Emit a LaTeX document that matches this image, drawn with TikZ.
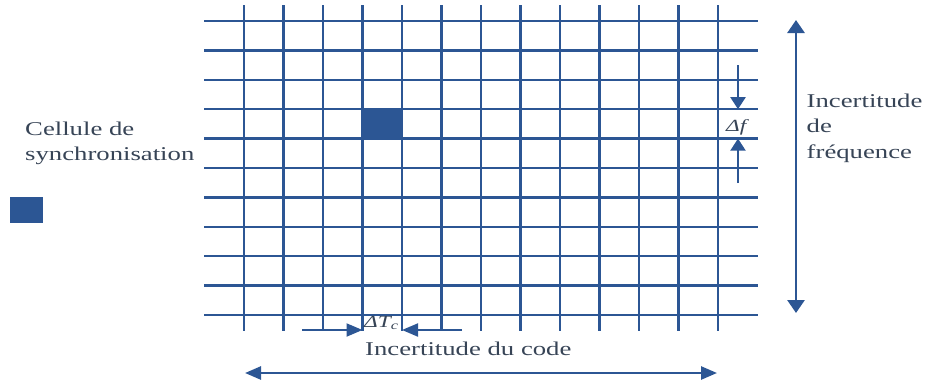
\documentclass[tikz,border=0pt]{standalone}
\usepackage{fontspec}
\setmainfont[FakeStretch=1.37]{Liberation Serif}
\usepackage{tikz}
\usetikzlibrary{arrows.meta,positioning}
\definecolor{gridblue}{RGB}{44,86,148}
\definecolor{txtgray}{RGB}{55,68,86}
\tikzset{
    lab/.style={
        font=\fontsize{19.5}{25.5}\selectfont, text=txtgray, inner sep=0pt, align=left
    }
}

\begin{document}
\begin{tikzpicture}[
  x=1pt, y=-1pt,
  line join=round,
  gridline/.style={draw=gridblue, line width=2.5pt},
  bigArrow/.style={draw=gridblue, line width=2.8pt, {Triangle[length=13pt,width=17pt]}-{Triangle[length=13pt,width=17pt]}},
  codeArrow/.style={draw=gridblue, line width=2.6pt, {Triangle[length=16pt,width=13pt]}-{Triangle[length=16pt,width=13pt]}},
  stepArrowV/.style={draw=gridblue, line width=2pt, -{Triangle[length=12pt,width=15pt]}},
  stepArrowH/.style={draw=gridblue, line width=2pt, -{Triangle[length=16pt,width=13pt]}}
]
\useasboundingbox (0,0) rectangle (928,383);

% ---------- styles ----------
\tikzset{
  deltaLab/.style={font=\fontsize{17}{20}\selectfont\itshape, text=txtgray, inner sep=0pt}
}

% ---------- cells ----------
\fill[gridblue] (362.5,109.2) rectangle (402,138.6);
\fill[gridblue] (10,197) rectangle (43,223);

% ---------- grid ----------
\foreach \i in {0,...,10} {
  \draw[gridline] (204,21+\i*29.4) -- (758,21+\i*29.4);
}
\foreach \j in {0,...,12} {
  \draw[gridline] (244+\j*39.5,5) -- (244+\j*39.5,331);
}

% ---------- labels ----------
\node[lab, anchor=north west] (sync) at (25,121.5) {Cellule de\\synchronisation};
\node[lab, anchor=north west] (freq) at (806.5,93.5) {Incertitude\\de\\fréquence};
\node[lab, anchor=base west] (code) at (365,355) {Incertitude du code};
\node[deltaLab, anchor=base west] (df) at (726,131.5) {Δf};
\node[deltaLab, anchor=base west] (dtc) at (364,327) {ΔT\textsubscript{c}};

% ---------- arrows ----------
\coordinate (freqTop) at (796,20);
\coordinate (freqBot) at (796,313);
\coordinate (codeL) at (245,373);
\coordinate (codeR) at (717,373);
\coordinate (dfA) at (738,65);
\coordinate (dfB) at (738,109.2);
\coordinate (dfC) at (738,183);
\coordinate (dfD) at (738,138.6);
\coordinate (dtA) at (302,330);
\coordinate (dtB) at (362.5,330);
\coordinate (dtC) at (462,330);
\coordinate (dtD) at (402,330);

\draw[bigArrow] (freqTop) -- (freqBot);
\draw[codeArrow] (codeL) -- (codeR);
\draw[stepArrowV] (dfA) -- (dfB);
\draw[stepArrowV] (dfC) -- (dfD);
\draw[stepArrowH] (dtA) -- (dtB);
\draw[stepArrowH] (dtC) -- (dtD);

\end{tikzpicture}
\end{document}
